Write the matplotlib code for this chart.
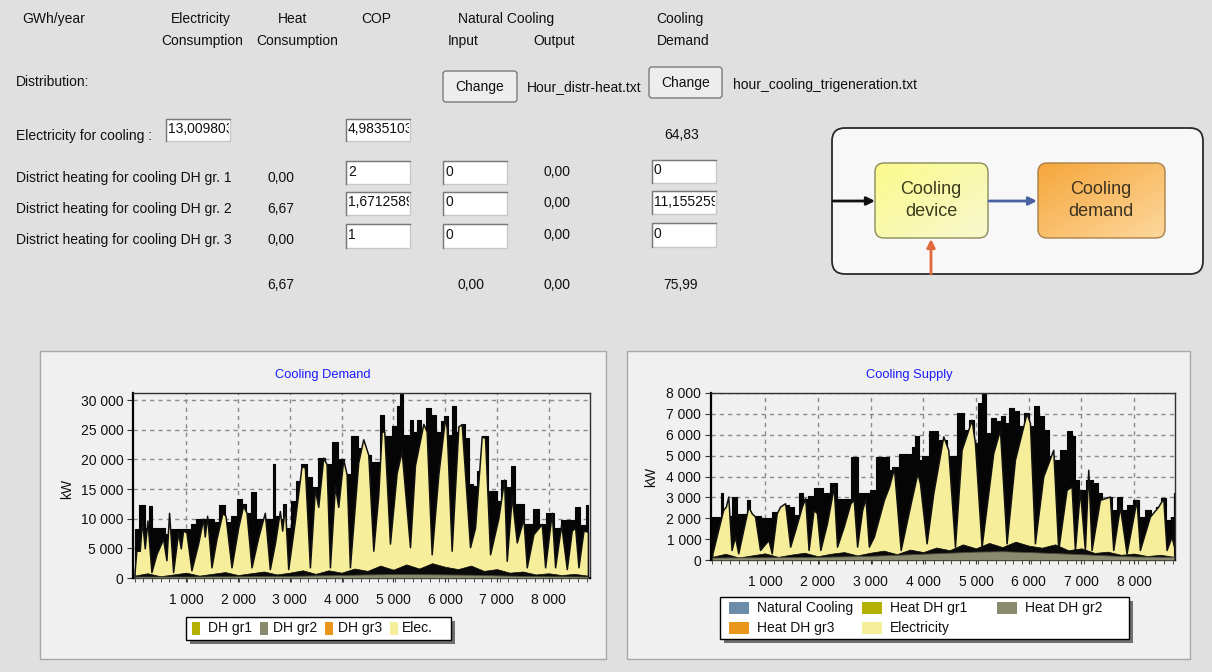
import matplotlib
matplotlib.use("Agg")
import matplotlib.pyplot as plt
import numpy as np
from matplotlib.patches import Rectangle, FancyBboxPatch
from matplotlib.colors import LinearSegmentedColormap
from matplotlib.ticker import FuncFormatter, FixedLocator, MultipleLocator
from matplotlib.transforms import Bbox, TransformedBbox

plt.rcParams['font.family'] = ['Liberation Sans', 'DejaVu Sans']

# ---------------- form data ----------------
row_labels = ["District heating for cooling DH gr. 1",
              "District heating for cooling DH gr. 2",
              "District heating for cooling DH gr. 3"]
heat_cons = ["0,00", "6,67", "0,00"]
cop_vals = ["2", "1,6712589", "1"]
nat_input = ["0", "0", "0"]
nat_output = ["0,00", "0,00", "0,00"]
demand_vals = ["0", "11,155259", "0"]
elec_for_cooling = "13,009803"
elec_cop = "4,9835103"
elec_demand = "64,83"
total_heat = "6,67"
total_nat_in = "0,00"
total_nat_out = "0,00"
total_demand = "75,99"
distr_file_1 = "Hour_distr-heat.txt"
distr_file_2 = "hour_cooling_trigeneration.txt"

# ---------------- chart data (hour of year, kW) ----------------
x_tick_hours = [1000, 2000, 3000, 4000, 5000, 6000, 7000, 8000]

# Cooling Demand: total (black envelope)
dem_env_h = [0,164,229,313,358,551,616,680,1035,1131,1260,1486,1583,1679,1808,1937,2034,2131,2195,2292,
             2388,2646,2691,2743,2840,2885,2969,3065,3162,3259,3388,3484,3613,3742,3871,4000,4097,4258,4387,4516,
             4613,4709,4787,4870,4935,5019,5115,5154,5225,5289,5341,5418,5483,5580,5676,5773,5870,5966,6011,6095,
             6173,6257,6353,6418,6514,6579,6643,6772,6869,6966,7030,7140,7223,7320,7385,7481,7578,7643,7771,7868,
             8029,8190,8287,8448,8558,8674,8760]
dem_env_kw = [8300,12300,8500,12100,8400,8400,7400,8300,8300,9100,10000,10000,9500,12300,9500,10500,13400,12500,11000,14500,
              10000,10000,19300,10500,10000,12500,8500,13000,16400,19200,17000,15300,20300,19200,23000,20000,17500,23900,22000,20800,
              19500,19500,27500,24000,24000,25600,29000,31000,24200,24200,26700,24700,26700,23000,28700,27500,24700,26400,27300,24200,
              29000,24700,25900,23600,15800,15500,18000,24000,14700,14700,13000,16600,15300,18900,12500,12500,9100,9100,11600,9100,
              11000,8500,9700,9700,11900,9000,12300]
# Cooling Demand: Elec.
dem_elec_h = [0,35,100,145,197,248,326,422,551,616,667,745,841,893,938,1002,1099,1228,1325,1357,
              1402,1486,1583,1699,1757,1873,2002,2098,2163,2260,2388,2517,2614,2711,2808,2853,2904,2969,3098,3227,
              3291,3388,3484,3549,3646,3710,3775,3871,3936,4032,4097,4161,4322,4419,4516,4613,4709,4774,4825,4935,
              5064,5160,5322,5418,5580,5644,5741,5870,5999,6031,6127,6257,6321,6482,6579,6708,6772,6869,7030,7140,
              7191,7288,7385,7514,7578,7707,7868,7933,8061,8126,8242,8352,8448,8513,8577,8674,8760]
dem_elec_kw = [1000,4600,4600,9700,5000,9700,1000,4000,6600,3000,11000,1000,7700,5000,8000,7700,1300,5800,10000,7000,
               10500,1800,6600,11000,10500,1800,8500,12200,11000,1800,6800,11000,1500,5800,11300,8000,12200,1500,9700,18900,
               18600,1800,15000,12000,20300,19200,1800,15500,12000,20000,17500,1800,19500,23400,20800,4600,14000,24700,24700,5800,
               17700,21400,5200,19000,26000,24700,4000,17500,27000,25300,4600,25600,25900,5200,8500,23900,23600,4000,10100,16600,
               2900,13800,6000,10000,1800,7400,9100,1800,11000,1800,9000,1500,8000,8500,1800,8000,7800]
# Cooling Demand: low dark band
dem_low_h = [0,250,500,750,1000,1250,1500,1750,2000,2250,2500,2750,3000,3250,3500,3750,4000,4250,
             4500,4750,5000,5250,5500,5750,6000,6250,6500,6750,7000,7250,7500,7750,8000,8250,8500,8760]
dem_low_kw = [400,800,300,600,900,400,700,1000,500,800,1100,600,900,1300,700,1300,900,1600,
              1200,2100,1400,2300,1600,2500,1900,1500,2100,1200,1500,900,1100,600,800,500,700,400]
# Cooling Demand: DH gr2
dem_dh2_h = [0,1000,2000,3000,3500,4000,4500,5000,5500,6000,6500,7000,7500,8000,8760]
dem_dh2_kw = [250,250,300,350,450,500,600,650,650,600,550,450,350,300,250]

# Cooling Supply: total (black envelope)
sup_env_h = [0,143,175,238,333,429,492,651,683,746,1095,1159,1286,1413,1508,1603,1667,1762,1857,2016,
             2175,2302,2429,2556,2715,2810,2937,3032,3191,3318,3381,3445,3635,3762,3826,3870,3953,4001,4222,4349,
             4570,4728,4823,4918,5012,5076,5139,5234,5328,5423,5518,5581,5676,5771,5866,5960,6055,6150,6245,6340,
             6434,6529,6656,6782,6845,6908,7003,7161,7288,7351,7446,7540,7635,7730,7825,7920,8046,8141,8267,8362,
             8457,8552,8646,8741,8760]
sup_env_kw = [2080,2080,3200,2400,2100,3040,2200,2200,2880,2100,2000,2300,2200,2650,2550,2150,3200,2900,3050,3450,
              3200,3680,2900,2900,4950,3200,3200,3370,4950,4950,4300,4450,5100,5100,5400,5950,4800,4960,6160,5760,
              4960,7040,6240,6720,5600,7520,8000,6080,6800,6640,6880,6560,7280,7120,6400,7040,6400,7360,6880,6240,
              4960,4800,5280,6160,5920,3840,3360,3840,3680,3200,2560,3040,2400,3040,2400,2640,2880,2080,2400,1920,
              2560,2960,1920,2080,3200]
# Cooling Supply: Electricity
sup_elec_h = [0,111,206,257,302,365,429,492,587,683,746,810,905,1064,1127,1222,1286,1381,1476,1572,
              1699,1762,1826,1921,1984,2048,2175,2302,2365,2492,2619,2683,2746,2842,2905,2969,3064,3254,3349,3445,
              3572,3762,3889,3938,4064,4191,4380,4475,4602,4728,4918,4981,5107,5328,5455,5581,5739,5960,6024,6118,
              6276,6466,6561,6719,6814,6877,6972,7066,7130,7193,7351,7540,7604,7730,7856,8046,8109,8299,8457,8552,
              8615,8710,8760]
sup_elec_kw = [300,1440,2400,2560,3040,480,1120,320,1440,2560,2240,2080,480,960,320,2240,2560,2720,640,1440,
               2560,2960,480,2400,2240,480,1760,3520,640,1600,2720,2880,640,2400,2960,640,1120,2880,3500,4400,
               480,2720,4160,3680,800,3200,5920,5280,640,5280,6720,5600,640,5120,6240,800,4800,7040,6560,800,
               4000,5280,480,3360,3520,480,3360,480,4320,480,2880,3040,480,2560,320,2880,480,2080,2560,2960,
               480,1120,600]
# Cooling Supply: low dark band
sup_low_h = [0,250,500,750,1000,1250,1500,1750,2000,2250,2500,2750,3000,3250,3500,3750,4000,4250,
             4500,4750,5000,5250,5500,5750,6000,6250,6500,6750,7000,7250,7500,7750,8000,8250,8500,8760]
sup_low_kw = [150,300,120,220,320,150,260,350,180,300,380,220,350,450,280,500,380,600,
              470,750,560,820,620,880,690,590,750,470,560,340,400,250,310,190,250,150]
# Cooling Supply: Heat DH gr2
sup_dh2_h = [0,1000,2000,3000,3500,4000,4500,5000,5500,6000,6500,7000,7500,8000,8760]
sup_dh2_kw = [120,130,150,200,250,300,350,400,420,380,330,280,220,170,150]

dem_legend = [("DH gr1", "#b4b000"), ("DH gr2", "#8a8a6e"), ("DH gr3", "#e8961c"), ("Elec.", "#f7ee9c")]
sup_legend = [("Natural Cooling", "#6d8ca8"), ("Heat DH gr1", "#b4b000"), ("Heat DH gr2", "#8a8a6e"),
              ("Heat DH gr3", "#e8961c"), ("Electricity", "#f7ee9c")]

# ---------------- figure ----------------
W, H = 1212, 672
fig = plt.figure(figsize=(W / 100, H / 100), dpi=100)
fig.patch.set_facecolor('#e0e0e0')

ov = fig.add_axes([0, 0, 1, 1])
ov.set_xlim(0, W)
ov.set_ylim(H, 0)
ov.axis('off')

FS = 10


def T(x, y, s, ha='left', **kw):
    kw.setdefault('fontsize', FS)
    kw.setdefault('color', '#101010')
    return ov.text(x, y, s, ha=ha, va='center', **kw)


def tbox(x0, y0, x1, y1, s):
    r = Rectangle((x0, y0), x1 - x0, y1 - y0, fc='white', ec='#c8c8c8', lw=1)
    ov.add_patch(r)
    ov.plot([x0, x0, x1], [y1, y0, y0], color='#7a7a7a', lw=1)
    t = ov.text(x0 + 2, (y0 + y1) / 2 - 1, s, ha='left', va='center', fontsize=FS, color='#101010')
    t.set_clip_on(True)
    t.set_clip_box(TransformedBbox(Bbox.from_extents(x0, y0, x1 - 1, y1), ov.transData))


def button(x0, y0, x1, y1, s):
    b = FancyBboxPatch((x0, y0), x1 - x0, y1 - y0, boxstyle="round,pad=0,rounding_size=3",
                       fc='#ededed', ec='#7a7a7a', lw=1)
    ov.add_patch(b)
    T((x0 + x1) / 2, (y0 + y1) / 2, s, ha='center')


# header
T(22, 19, "GWh/year")
T(201, 19, "Electricity", ha='center')
T(202, 41, "Consumption", ha='center')
T(293, 19, "Heat", ha='center')
T(297, 41, "Consumption", ha='center')
T(376, 19, "COP", ha='center')
T(506, 19, "Natural Cooling", ha='center')
T(463, 41, "Input", ha='center')
T(554, 41, "Output", ha='center')
T(680, 19, "Cooling", ha='center')
T(683, 41, "Demand", ha='center')

T(16, 82, "Distribution:")
button(443, 71, 517, 102, "Change")
T(527, 87, distr_file_1)
button(649, 67, 722, 98, "Change")
T(733, 85, distr_file_2)

T(16, 136, "Electricity for cooling :")
tbox(166, 119, 230, 141, elec_for_cooling)
tbox(346, 119, 410, 141, elec_cop)
T(682, 135, elec_demand, ha='center')

row_y = [178, 209, 240]
box_y = [(161, 184), (192, 215), (224, 248)]
mid_y = [172, 203, 235]
for lab, hc, cop, ni, no, dv, ry, (b0, b1), my in zip(row_labels, heat_cons, cop_vals, nat_input,
                                                      nat_output, demand_vals, row_y, box_y, mid_y):
    T(16, ry, lab)
    T(267, ry, hc)
    tbox(346, b0, 410, b1, cop)
    tbox(443, b0, 507, b1, ni)
    T(543, my, no)
    tbox(652, b0 - 1, 716, b1 - 1, dv)

T(267, 285, total_heat)
T(458, 285, total_nat_in)
T(543, 285, total_nat_out)
T(663, 285, total_demand)

# diagram
outer = FancyBboxPatch((832, 128), 371, 146, boxstyle="round,pad=0,rounding_size=13",
                       fc='#f8f8f8', ec='#2a2a2a', lw=1.3)
ov.add_patch(outer)


def grad_box(x0, y0, w, h, c1, c2, ec):
    p = FancyBboxPatch((x0, y0), w, h, boxstyle="round,pad=0,rounding_size=9",
                       fc='none', ec=ec, lw=1.0, zorder=3)
    ov.add_patch(p)
    gx, gy = np.meshgrid(np.linspace(0, 1, 60), np.linspace(0, 1, 40))
    g = (gx + gy) / 2
    cmap = LinearSegmentedColormap.from_list('g', [c1, c2])
    im = ov.imshow(g, extent=(x0, x0 + w, y0 + h, y0), cmap=cmap, aspect='auto',
                   interpolation='bilinear', zorder=2, origin='upper')
    im.set_clip_path(p)


grad_box(875, 163, 113, 75, '#fbfb8c', '#f7f7cf', '#8c8c5a')
grad_box(1038, 163, 127, 75, '#f6a73c', '#fdd79c', '#a88048')
ov.set_xlim(0, W)
ov.set_ylim(H, 0)
T(931, 189, "Cooling", ha='center', fontsize=13, color='#3c3c1e', zorder=4)
T(931, 211, "device", ha='center', fontsize=13, color='#3c3c1e', zorder=4)
T(1101, 189, "Cooling", ha='center', fontsize=13, color='#3c3320', zorder=4)
T(1101, 211, "demand", ha='center', fontsize=13, color='#3c3320', zorder=4)
ov.annotate('', xy=(875, 201), xytext=(833, 201),
            arrowprops=dict(arrowstyle='-|>', color='#111111', lw=2, mutation_scale=12, shrinkA=0, shrinkB=0))
ov.annotate('', xy=(1037, 201), xytext=(989, 201),
            arrowprops=dict(arrowstyle='-|>', color='#4a62a0', lw=2, mutation_scale=12, shrinkA=0, shrinkB=0))
ov.annotate('', xy=(931, 239), xytext=(931, 274),
            arrowprops=dict(arrowstyle='-|>', color='#e0683a', lw=2, mutation_scale=12, shrinkA=0, shrinkB=0))

# chart panels
ov.add_patch(Rectangle((40, 351), 566, 308, fc='#f0f0f0', ec='#a8a8a8', lw=1))
ov.add_patch(Rectangle((627, 351), 563, 308, fc='#f0f0f0', ec='#a8a8a8', lw=1))
T(323, 375, "Cooling Demand", ha='center', fontsize=9.3, color='#1a1aff')
T(909, 375, "Cooling Supply", ha='center', fontsize=9.3, color='#1a1aff')
T(67, 489, "kW", ha='center', rotation=90)
T(651, 477, "kW", ha='center', rotation=90)

# legends
ov.add_patch(Rectangle((190, 621), 265, 23, fc='#707070', ec='none'))
ov.add_patch(Rectangle((186, 617), 265, 23, fc='white', ec='black', lw=1))
for (lab, col), px, tx in zip(dem_legend, [192, 260, 325, 390], [208, 273, 338, 402]):
    ov.add_patch(Rectangle((px, 622), 8, 13, fc=col, ec='none'))
    T(tx, 628, lab)

ov.add_patch(Rectangle((724, 601), 409, 42, fc='#707070', ec='none'))
ov.add_patch(Rectangle((720, 597), 409, 42, fc='white', ec='black', lw=1))
sup_pos = [(729, 608), (862, 608), (997, 608), (729, 628), (862, 628)]
for (lab, col), (px, py) in zip(sup_legend, sup_pos):
    ov.add_patch(Rectangle((px, py - 6), 20, 12, fc=col, ec='none'))
    T(px + 28, py, lab)

fmt = FuncFormatter(lambda v, p: f"{int(round(v)):,}".replace(",", " "))


def chart(rect_px, xlim, ymax, ystep, env, elec, low, dh2):
    x, y, w, h = rect_px
    ax = fig.add_axes([x / W, 1 - (y + h) / H, w / W, h / H])
    ax.set_facecolor('#f0f0f0')
    ax.set_xlim(*xlim)
    ax.set_ylim(0, ymax)
    ax.set_axisbelow(True)
    ax.grid(True, which='major', color='#8a8a8a', linestyle=(0, (3, 3)), linewidth=1)
    ax.fill_between(env[0], 0, env[1], step='mid', facecolor='#050505', edgecolor='#050505',
                    lw=0.8, zorder=2)
    ax.fill_between(elec[0], 0, elec[1], facecolor='#f7ee9c', edgecolor='#111111', lw=1.1, zorder=3)
    ax.fill_between(low[0], 0, low[1], facecolor='#0a0a0a', edgecolor='#0a0a0a', lw=0.5, zorder=4)
    ax.fill_between(dh2[0], 0, dh2[1], facecolor='#8a8a6e', edgecolor='#4a4a3a', lw=0.6, zorder=5)
    ax.xaxis.set_major_locator(FixedLocator(x_tick_hours))
    ax.xaxis.set_minor_locator(MultipleLocator(168))
    ax.yaxis.set_major_locator(MultipleLocator(ystep))
    ax.xaxis.set_major_formatter(fmt)
    ax.yaxis.set_major_formatter(fmt)
    ax.tick_params(axis='both', which='both', direction='out', color='#333333', labelsize=FS,
                   labelcolor='#101010')
    ax.tick_params(axis='x', which='major', length=3, pad=8)
    ax.tick_params(axis='x', which='minor', length=3)
    ax.tick_params(axis='y', which='major', length=4, pad=3)
    for s in ['left', 'bottom']:
        ax.spines[s].set_color('black')
        ax.spines[s].set_linewidth(1.6)
    for s in ['top', 'right']:
        ax.spines[s].set_color('#303030')
        ax.spines[s].set_linewidth(1.0)
    return ax


chart((133, 393, 457, 185), (-30, 8800), 31200, 5000,
      (dem_env_h, dem_env_kw), (dem_elec_h, dem_elec_kw), (dem_low_h, dem_low_kw), (dem_dh2_h, dem_dh2_kw))
chart((711, 393, 464, 167), (-25, 8775), 8000, 1000,
      (sup_env_h, sup_env_kw), (sup_elec_h, sup_elec_kw), (sup_low_h, sup_low_kw), (sup_dh2_h, sup_dh2_kw))

fig.savefig("out.png", dpi=100, facecolor=fig.get_facecolor())
